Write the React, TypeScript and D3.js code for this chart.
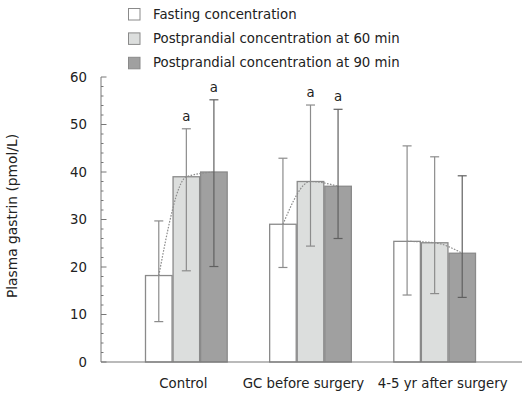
import React from "react";
import * as d3 from "d3";

const groups = ["Control", "GC before surgery", "4-5 yr after surgery"];
const series = [
  "Fasting concentration",
  "Postprandial concentration at 60 min",
  "Postprandial concentration at 90 min",
];
const means = [
  [18.2, 39.0, 40.0],
  [29.0, 38.0, 37.0],
  [25.4, 25.1, 22.9],
];
const upper = [
  [29.7, 49.1, 55.2],
  [42.9, 54.1, 53.2],
  [45.5, 43.2, 39.2],
];
const lower = [
  [8.5, 19.2, 20.1],
  [19.9, 24.4, 26.0],
  [14.1, 14.4, 13.6],
];
const marks = [
  ["", "a", "a"],
  ["", "a", "a"],
  ["", "", ""],
];
const yTicks = [0, 10, 20, 30, 40, 50, 60];
const fills = ["#ffffff", "#dcdedd", "#a0a0a0"];
const labelShift = [-3, -7, 8];

const FONT = "DejaVu Sans, Verdana, sans-serif";

export default function App() {
  const W = 531;
  const H = 401;
  const y = d3.scaleLinear().domain([0, 60]).range([362, 77]);
  const x0 = d3.scaleBand<string>().domain(groups).range([145, 476]).paddingInner(0.334);
  const x1 = d3.scaleBand<string>().domain(series).range([0, x0.bandwidth()]);
  const minor = d3.range(0, 61, 2);
  const line = d3
    .line<[number, number]>()
    .x((d) => d[0])
    .y((d) => d[1])
    .curve(d3.curveMonotoneX);

  return (
    <svg width={W} height={H} style={{ position: "absolute", left: 0, top: 0, background: "#fff" }}>
      <rect x={0} y={0} width={W} height={H} fill="#fff" />
      {/* legend */}
      {series.map((s, i) => (
        <g key={s} transform={`translate(128, ${8 + i * 24.4})`}>
          <rect x={0.5} y={0.5} width={11.5} height={11.5} fill={fills[i]} stroke="#8a8a8a" strokeWidth={1} />
          <text x={25} y={10.5} fontSize={13.3} fontFamily={FONT} fill="#222">
            {s}
          </text>
        </g>
      ))}
      {/* y axis */}
      <line x1={101} x2={101} y1={y(60)} y2={y(0)} stroke="#777" strokeWidth={1} />
      {minor.map((t) => (
        <line
          key={t}
          x1={101}
          x2={t % 10 === 0 ? 106.5 : 103.5}
          y1={y(t)}
          y2={y(t)}
          stroke="#777"
          strokeWidth={1}
        />
      ))}
      {yTicks.map((t) => (
        <text
          key={t}
          x={87}
          y={y(t) + 4.8}
          textAnchor="end"
          fontSize={13.3}
          fontFamily={FONT}
          fill="#222"
        >
          {t}
        </text>
      ))}
      <text
        transform={`translate(17, ${216}) rotate(-90)`}
        textAnchor="middle"
        fontSize={13.8}
        fontFamily={FONT}
        fill="#222"
      >
        Plasma gastrin (pmol/L)
      </text>
      {/* bars */}
      {groups.map((g, gi) => (
        <g key={g} transform={`translate(${x0(g)}, 0)`}>
          {series.map((s, si) => (
            <rect
              key={s}
              x={(x1(s) as number) + 0.5}
              y={y(means[gi][si])}
              width={x1.bandwidth() - 1}
              height={y(0) - y(means[gi][si])}
              fill={fills[si]}
              stroke="#8a8a8a"
              strokeWidth={1.3}
            />
          ))}
        </g>
      ))}
      {/* x axis */}
      <line x1={101} x2={522} y1={y(0)} y2={y(0)} stroke="#777" strokeWidth={1.2} />
      {/* smooth dotted curves */}
      {groups.map((g, gi) => {
        const pts: [number, number][] = series.map((s, si) => [
          (x0(g) as number) + (x1(s) as number) + x1.bandwidth() / 2,
          y(means[gi][si]),
        ]);
        return (
          <path
            key={g}
            d={line(pts) || ""}
            fill="none"
            stroke="#8c8c8c"
            strokeWidth={1.2}
            strokeDasharray="1.6,1.4"
          />
        );
      })}
      {/* error bars */}
      {groups.map((g, gi) =>
        series.map((s, si) => {
          const cx = (x0(g) as number) + (x1(s) as number) + x1.bandwidth() / 2;
          const col = si === 2 ? "#606060" : "#8c8c8c";
          return (
            <g key={g + s}>
              <line x1={cx} x2={cx} y1={y(upper[gi][si])} y2={y(lower[gi][si])} stroke={col} strokeWidth={1.2} />
              <line x1={cx - 4.5} x2={cx + 4.5} y1={y(upper[gi][si])} y2={y(upper[gi][si])} stroke={col} strokeWidth={1.2} />
              <line x1={cx - 4.5} x2={cx + 4.5} y1={y(lower[gi][si])} y2={y(lower[gi][si])} stroke={col} strokeWidth={1.2} />
              {marks[gi][si] && (
                <text
                  x={cx}
                  y={y(upper[gi][si]) - 8}
                  textAnchor="middle"
                  fontSize={13.3}
                  fontFamily={FONT}
                  fill="#222"
                >
                  {marks[gi][si]}
                </text>
              )}
            </g>
          );
        })
      )}
      {/* category labels */}
      {groups.map((g, gi) => (
        <text
          key={g}
          x={(x0(g) as number) + x0.bandwidth() / 2 + labelShift[gi]}
          y={388}
          textAnchor="middle"
          fontSize={13.3}
          fontFamily={FONT}
          fill="#222"
        >
          {g}
        </text>
      ))}
    </svg>
  );
}
